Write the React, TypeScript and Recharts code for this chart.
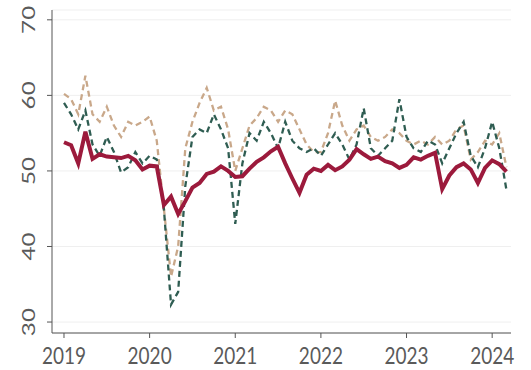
import React from "react";
import { CartesianGrid, Line, LineChart, XAxis, YAxis } from "recharts";

const months = [
  "2019-01", "2019-02", "2019-03", "2019-04", "2019-05", "2019-06", "2019-07", "2019-08", "2019-09", "2019-10", "2019-11", "2019-12",
  "2020-01", "2020-02", "2020-03", "2020-04", "2020-05", "2020-06", "2020-07", "2020-08", "2020-09", "2020-10", "2020-11", "2020-12",
  "2021-01", "2021-02", "2021-03", "2021-04", "2021-05", "2021-06", "2021-07", "2021-08", "2021-09", "2021-10", "2021-11", "2021-12",
  "2022-01", "2022-02", "2022-03", "2022-04", "2022-05", "2022-06", "2022-07", "2022-08", "2022-09", "2022-10", "2022-11", "2022-12",
  "2023-01", "2023-02", "2023-03", "2023-04", "2023-05", "2023-06", "2023-07", "2023-08", "2023-09", "2023-10", "2023-11", "2023-12",
  "2024-01", "2024-02", "2024-03",
];

const solidSeries = [
  53.8, 53.4, 51.0, 55.2, 51.6, 52.2, 51.9, 51.8, 51.7, 52.0, 51.4, 50.2,
  50.7, 50.6, 45.5, 46.6, 44.3, 46.0, 47.8, 48.4, 49.6, 49.9, 50.6, 50.0,
  49.2, 49.3, 50.3, 51.2, 51.8, 52.6, 53.2, 51.0, 49.0, 47.1, 49.5, 50.3,
  50.0, 50.8, 50.1, 50.6, 51.5, 52.9, 52.2, 51.6, 51.9, 51.3, 51.0, 50.4,
  50.8, 51.8, 51.5, 52.0, 52.4, 47.6, 49.4, 50.5, 51.0, 50.2, 48.4, 50.4,
  51.4, 50.9, 49.9,
];

const greenSeries = [
  59.0, 57.5, 55.5, 58.0, 53.5, 52.0, 54.5, 52.5, 49.8, 50.5, 52.5, 51.0,
  52.0, 51.5, 45.0, 32.3, 34.0, 48.0, 54.5, 55.5, 55.0, 57.5, 55.5, 53.0,
  43.0, 51.0, 55.0, 54.0, 56.5, 55.0, 53.0, 56.5, 54.0, 53.0, 52.5, 53.0,
  52.0, 53.5, 55.0, 53.5, 51.5, 53.5, 58.3, 53.0, 52.0, 53.0, 54.0, 59.5,
  54.5, 53.0, 52.5, 54.0, 53.5, 51.0, 53.0, 55.0, 56.5, 52.0, 50.5, 53.0,
  56.5, 53.0, 47.5,
];

const tanSeries = [
  60.2, 59.5, 57.5, 62.6, 57.5, 56.5, 58.5, 56.0, 54.5, 56.5, 56.0, 56.5,
  57.2, 54.0, 45.0, 36.0, 40.0, 53.0, 56.5, 59.0, 61.0, 58.0, 58.5, 55.5,
  50.0, 53.0, 56.0, 57.0, 58.5, 58.0, 56.5, 58.0, 57.5, 55.5, 53.5, 52.5,
  52.5, 55.0, 59.3, 56.0, 54.0, 55.5, 56.0, 54.5, 54.0, 54.5, 55.5, 55.0,
  54.0, 53.5, 54.0, 53.5, 54.5, 53.5, 54.0, 55.5, 56.0, 51.5, 52.5, 54.0,
  53.5, 55.0, 50.5,
];

const yearTicks = [2019, 2020, 2021, 2022, 2023, 2024];
const valueTicks = [30, 40, 50, 60, 70];

const data = months.map((m, i) => {
  const [y, mo] = m.split("-").map(Number);
  return {
    t: y + (mo - 1) / 12,
    solid: solidSeries[i],
    green: greenSeries[i],
    tan: tanSeries[i],
  };
});

const FONT = "Lato, sans-serif";
const TEXT = "#5a5a5a";

const XTick = (props: any) => {
  const { x, payload } = props;
  return (
    <text
      transform={`translate(${x} 364) scale(1 1.2)`}
      textAnchor="middle"
      fill={TEXT}
      fontSize={19}
      fontFamily={FONT}
    >
      {payload.value}
    </text>
  );
};

const YTick = (props: any) => {
  const { y, payload } = props;
  return (
    <text
      transform={`translate(35 ${y}) rotate(-90) scale(1.35 1)`}
      textAnchor="middle"
      fill={TEXT}
      fontSize={18}
      fontFamily={FONT}
    >
      {payload.value}
    </text>
  );
};

export default function App() {
  return (
    <div style={{ position: "absolute", left: 0, top: 0, background: "#fff" }}>
      <LineChart
        width={531}
        height={370}
        data={data}
        margin={{ top: 10, right: 20, bottom: 0, left: 0 }}
      >
        <CartesianGrid vertical={false} stroke="#efefef" />
        <XAxis
          dataKey="t"
          type="number"
          domain={[2018.86, 2024.22]}
          ticks={yearTicks}
          height={37}
          stroke="#555"
          tickSize={5}
          tick={<XTick />}
        />
        <YAxis
          domain={[28.55, 71.3]}
          ticks={valueTicks}
          width={52}
          stroke="#555"
          tickSize={5}
          tick={<YTick />}
        />
        <Line
          dataKey="tan"
          stroke="#c9a88a"
          strokeWidth={2.3}
          strokeDasharray="6 4"
          dot={false}
          isAnimationActive={false}
        />
        <Line
          dataKey="green"
          stroke="#2f5d52"
          strokeWidth={2.3}
          strokeDasharray="6 4"
          dot={false}
          isAnimationActive={false}
        />
        <Line
          dataKey="solid"
          stroke="#9c1a3c"
          strokeWidth={4}
          dot={false}
          isAnimationActive={false}
        />
      </LineChart>
    </div>
  );
}
